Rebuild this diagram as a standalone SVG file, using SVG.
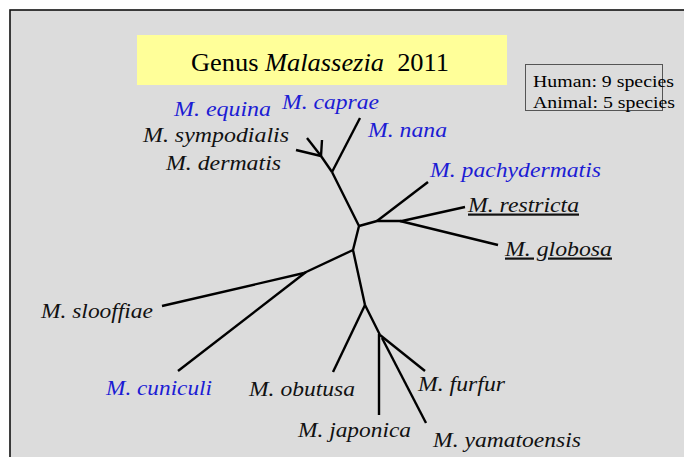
<svg xmlns="http://www.w3.org/2000/svg" width="684" height="457" viewBox="0 0 684 457">
<style>
.lbl{font-family:"Liberation Serif","Times New Roman",serif;font-style:italic;font-size:22px;fill:#111}
.blue{fill:#1c1cd4}
.ul{text-decoration:underline}
.br{stroke:#000;stroke-width:2.4;fill:none;stroke-linecap:butt;stroke-linejoin:round}
.leg{font-family:"Liberation Serif","Times New Roman",serif;font-size:17px;fill:#000}
</style>
<rect x="0" y="0" width="684" height="457" fill="#ffffff"/>
<rect x="10" y="10" width="690" height="460" fill="#dcdcdc" stroke="#111" stroke-width="1.6"/>
<g id="title">
<rect x="137" y="35" width="370" height="50" fill="#ffff99"/>
<text x="191" y="70.5" font-family="'Liberation Serif','Times New Roman',serif" font-size="26" fill="#000" textLength="258" lengthAdjust="spacingAndGlyphs">Genus <tspan font-style="italic">Malassezia</tspan>&#160; 2011</text>
</g>
<g id="legend">
<rect x="525.5" y="64.5" width="137" height="46" fill="none" stroke="#555" stroke-width="1"/>
<text class="leg" x="533" y="87" textLength="141" lengthAdjust="spacingAndGlyphs">Human: 9 species</text>
<text class="leg" x="533" y="108" textLength="142" lengthAdjust="spacingAndGlyphs">Animal: 5 species</text>
</g>
<g id="connectors">
<polyline class="br" points="365,305 353,250 359,226 332,172"/>
<line class="br" x1="332" y1="172" x2="360" y2="118"/>
<line class="br" x1="332" y1="172" x2="321" y2="156"/>
<line class="br" x1="321" y1="156" x2="322" y2="140"/>
<line class="br" x1="321" y1="156" x2="307" y2="138"/>
<line class="br" x1="321" y1="156" x2="296" y2="150"/>
<polyline class="br" points="359,226 377,221 402,221"/>
<line class="br" x1="377" y1="221" x2="428" y2="182"/>
<line class="br" x1="402" y1="221" x2="465" y2="207"/>
<line class="br" x1="400" y1="221" x2="498" y2="245"/>
<line class="br" x1="353" y1="250" x2="304" y2="273"/>
<line class="br" x1="304" y1="273" x2="162" y2="306"/>
<line class="br" x1="306" y1="272" x2="178" y2="371"/>
<line class="br" x1="365" y1="305" x2="333" y2="372"/>
<line class="br" x1="365" y1="305" x2="380" y2="335"/>
<line class="br" x1="379" y1="334" x2="379" y2="415"/>
<line class="br" x1="380" y1="335" x2="425" y2="371"/>
<line class="br" x1="382" y1="338" x2="426" y2="423"/>
</g>
<g id="equina"><text class="lbl blue" x="174" y="116" textLength="97" lengthAdjust="spacingAndGlyphs">M. equina</text></g>
<g id="caprae"><text class="lbl blue" x="282" y="109" textLength="97" lengthAdjust="spacingAndGlyphs">M. caprae</text></g>
<g id="sympodialis"><text class="lbl" x="143" y="142" textLength="146" lengthAdjust="spacingAndGlyphs">M. sympodialis</text></g>
<g id="nana"><text class="lbl blue" x="368" y="137" textLength="79" lengthAdjust="spacingAndGlyphs">M. nana</text></g>
<g id="dermatis"><text class="lbl" x="166" y="170" textLength="115" lengthAdjust="spacingAndGlyphs">M. dermatis</text></g>
<g id="pachydermatis"><text class="lbl blue" x="430" y="176.5" textLength="171" lengthAdjust="spacingAndGlyphs">M. pachydermatis</text></g>
<g id="restricta"><text class="lbl ul" x="468" y="211.5" textLength="111" lengthAdjust="spacingAndGlyphs">M. restricta</text></g>
<g id="globosa"><text class="lbl ul" x="505" y="255.5" textLength="107" lengthAdjust="spacingAndGlyphs">M. globosa</text></g>
<g id="slooffiae"><text class="lbl" x="41" y="318" textLength="112" lengthAdjust="spacingAndGlyphs">M. slooffiae</text></g>
<g id="cuniculi"><text class="lbl blue" x="106" y="395" textLength="106" lengthAdjust="spacingAndGlyphs">M. cuniculi</text></g>
<g id="obutusa"><text class="lbl" x="249" y="396" textLength="106" lengthAdjust="spacingAndGlyphs">M. obutusa</text></g>
<g id="furfur"><text class="lbl" x="418" y="391" textLength="87" lengthAdjust="spacingAndGlyphs">M. furfur</text></g>
<g id="japonica"><text class="lbl" x="298" y="437" textLength="113" lengthAdjust="spacingAndGlyphs">M. japonica</text></g>
<g id="yamatoensis"><text class="lbl" x="433" y="447" textLength="148" lengthAdjust="spacingAndGlyphs">M. yamatoensis</text></g>
</svg>
